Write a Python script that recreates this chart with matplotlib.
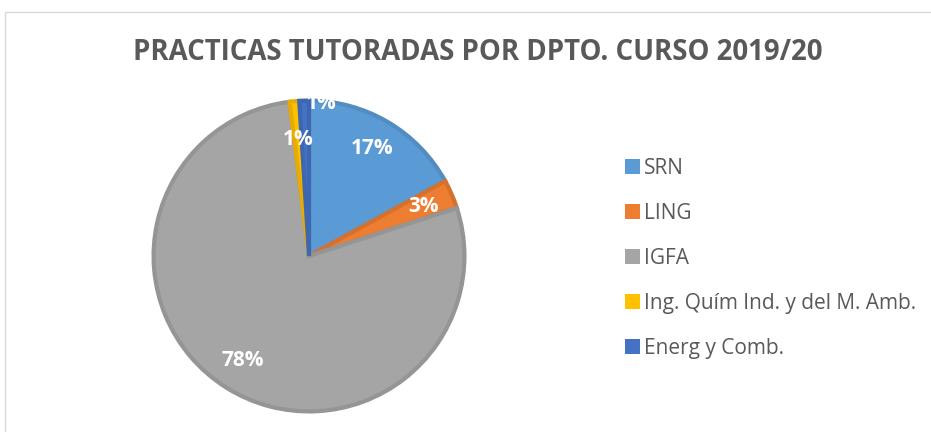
import matplotlib
matplotlib.use("Agg")
import matplotlib.pyplot as plt
from matplotlib.patches import Rectangle

labels = ["SRN", "LING", "IGFA", "Ing. Quím Ind. y del M. Amb.", "Energ y Comb."]
values = [17, 3, 78, 1, 1]
colors = ["#5B9BD5", "#ED7D31", "#A5A5A5", "#FFC000", "#4472C4"]
edges = ["#528CC0", "#D5712C", "#959595", "#E6AD00", "#3D67B0"]

W, H = 931, 432
cx, cy, R = 309, 256, 157  # pixel center / radius of the pie

fig = plt.figure(figsize=(W / 100, H / 100), dpi=100)
fig.patches.append(Rectangle((5 / W, -0.1), 1.2, (H - 12) / H + 0.1, transform=fig.transFigure,
                             fill=False, edgecolor="#D9D9D9", linewidth=1))

ax = fig.add_axes([0, 0, 1, 1])

wedges, texts, autotexts = ax.pie(values, colors=colors, startangle=90, counterclock=False,
                                  radius=0.99, autopct="%d%%", pctdistance=0.8,
                                  wedgeprops=dict(linewidth=3, joinstyle="miter"),
                                  textprops=dict(color="white", fontsize=15, fontweight="bold",
                                                 family="Open Sans"))
for w, e in zip(wedges, edges):
    w.set_edgecolor(e)
ax.set_xlim(-cx / R, (W - cx) / R)
ax.set_ylim(-(H - cy) / R, cy / R)
ax.set_aspect("equal", adjustable="datalim")
ax.axis("off")

# Excel nudged the two tiny labels
autotexts[3].set_position((-0.07, 0.74))
autotexts[4].set_position((0.076, 0.97))

fig.text(478 / W, 1 - 52 / H, "PRACTICAS TUTORADAS POR DPTO. CURSO 2019/20",
         ha="center", va="center", fontsize=19.9, fontweight="bold", color="#595959",
         family="Open Sans")

leg = fig.legend(wedges, labels, loc="upper left", bbox_to_anchor=(606 / W, 1 - 139 / H),
                 frameon=False, labelspacing=1.15, handlelength=0.75,
                 handleheight=0.75, handletextpad=0.15, prop=dict(family="Open Sans", size=15))
for t in leg.get_texts():
    t.set_color("#595959")
for h in leg.legend_handles:
    h.set_linewidth(0)

fig.savefig("out.png", dpi=100)
